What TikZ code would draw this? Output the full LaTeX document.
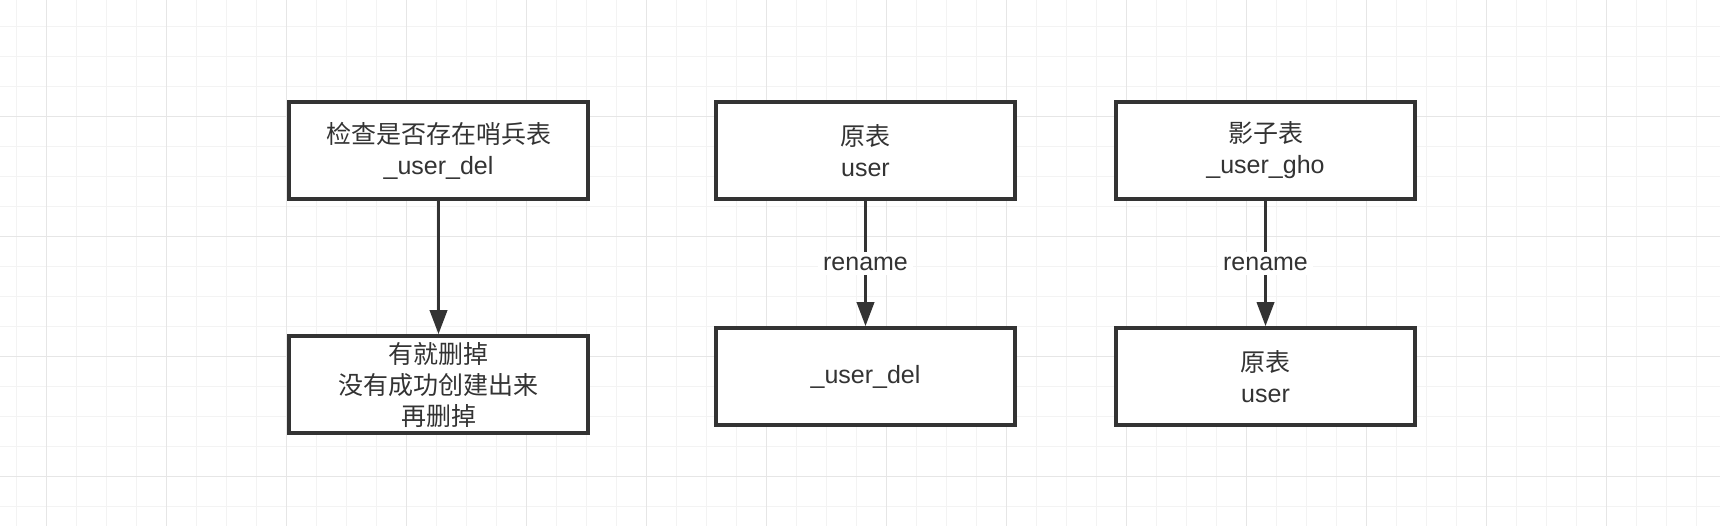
\documentclass[tikz,border=0pt]{standalone}
\usepackage{fontspec}
\setmainfont{Liberation Sans}
\newfontfamily\cjk{Noto Sans CJK SC}
\usepackage{tikz}
\usepackage{xcolor}
\usetikzlibrary{arrows.meta}

\definecolor{gridminor}{HTML}{F3F3F3}
\definecolor{gridmajor}{HTML}{E6E6E6}
\definecolor{ink}{HTML}{333333}

\begin{document}
\begin{tikzpicture}[x=1pt,y=-1pt,
  tablebox/.style={draw=ink,fill=white,line width=3.5pt,minimum width=299pt,
    minimum height=97pt,align=center,font=\fontsize{25}{31}\selectfont,text=ink},
  flow/.style={draw=ink,line width=3.5pt,-{Triangle[length=24pt,width=17pt]}},
  steplabel/.style={fill=white,font=\fontsize{25}{31}\selectfont,text=ink,inner sep=5pt}]
\useasboundingbox (0,0) rectangle (1720,526);
\fill[white] (0,0) rectangle (1720,526);
% grid
\foreach \i in {0,...,56} \draw[gridminor,line width=1.5pt] (16.7+30*\i,0) -- (16.7+30*\i,526);
\foreach \j in {0,...,16} \draw[gridminor,line width=1.5pt] (0,26.7+30*\j) -- (1720,26.7+30*\j);
\foreach \i in {0,...,13} \draw[gridmajor,line width=1.5pt] (46.7+120*\i,0) -- (46.7+120*\i,526);
\foreach \j in {0,...,3} \draw[gridmajor,line width=1.5pt] (0,116.7+120*\j) -- (1720,116.7+120*\j);
% left column
\node[tablebox] (check) at (438.5,150.5) {{\cjk 检查是否存在哨兵表}\\\_user\_del};
\node[tablebox] (drop) at (438.5,384.5) {{\cjk 有就删掉}\\{\cjk 没有成功创建出来}\\{\cjk 再删掉}};
\draw[flow] (check) -- (drop);
% middle column
\node[tablebox] (orig) at (865.5,150.5) {{\cjk 原表}\\user};
\node[tablebox] (del) at (865.5,376.5) {\_user\_del};
\draw[flow] (orig) -- node[steplabel] (ren1) {rename} (del);
% right column
\node[tablebox] (ghost) at (1265.5,150.5) {{\cjk 影子表}\\\_user\_gho};
\node[tablebox] (neworig) at (1265.5,376.5) {{\cjk 原表}\\user};
\draw[flow] (ghost) -- node[steplabel] (ren2) {rename} (neworig);
\end{tikzpicture}
\end{document}
